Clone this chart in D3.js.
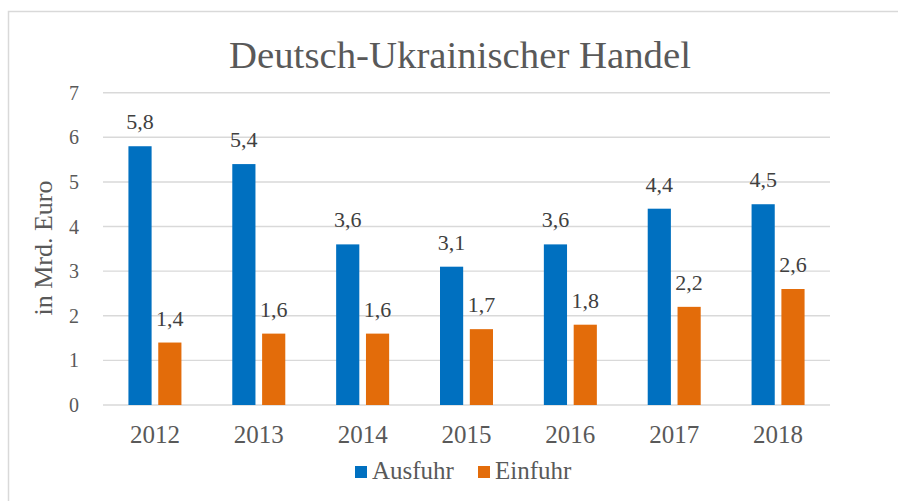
<!DOCTYPE html>
<html>
<head>
<meta charset="utf-8">
<script src="https://cdnjs.cloudflare.com/ajax/libs/d3/7.8.5/d3.min.js"></script>
<style>
  html, body { margin: 0; padding: 0; background: #fff; }
  svg { display: block; }
</style>
</head>
<body>
<div id="chart"></div>
<script>
// 数据
const years = ['2012', '2013', '2014', '2015', '2016', '2017', '2018'];
const series = ['Ausfuhr', 'Einfuhr'];
const ausfuhr = [5.8, 5.4, 3.6, 3.1, 3.6, 4.4, 4.5];
const einfuhr = [1.4, 1.6, 1.6, 1.7, 1.8, 2.2, 2.6];
const yTicks = [0, 1, 2, 3, 4, 5, 6, 7];
const colors = ['#0070C0', '#E36C0A'];

const width = 898, height = 501;
const font = '"Liberation Serif", "Times New Roman", serif';

const svg = d3.select('#chart')
  .append('svg')
  .attr('width', width)
  .attr('height', height);

// 外框
svg.append('rect')
  .attr('x', 8.5).attr('y', 11.5)
  .attr('width', 1000).attr('height', 600)
  .attr('fill', 'none')
  .attr('stroke', '#d9d9d9')
  .attr('stroke-width', 1.5);

// 标题
svg.append('text')
  .attr('x', 460).attr('y', 67.5)
  .attr('text-anchor', 'middle')
  .attr('textLength', 462)
  .attr('lengthAdjust', 'spacingAndGlyphs')
  .style('font-family', font)
  .style('font-size', '37px')
  .style('fill', '#595959')
  .text('Deutsch-Ukrainischer Handel');

// 比例尺
const x = d3.scaleBand().domain(years).range([103, 830]);
const pairW = 53;
const x1 = d3.scaleBand().domain(series)
  .range([(x.bandwidth() - pairW) / 2, (x.bandwidth() + pairW) / 2])
  .paddingInner(0.223);
const y = d3.scaleLinear().domain([0, 7]).range([405, 92.7]);

// 网格
svg.append('g')
  .selectAll('line')
  .data(yTicks)
  .enter().append('line')
  .attr('x1', 103).attr('x2', 830)
  .attr('y1', d => y(d)).attr('y2', d => y(d))
  .attr('stroke', '#d9d9d9')
  .attr('stroke-width', 1.4);

// y 轴刻度
svg.append('g')
  .selectAll('text')
  .data(yTicks)
  .enter().append('text')
  .attr('x', 79).attr('y', d => y(d) + 7)
  .attr('text-anchor', 'end')
  .style('font-family', font)
  .style('font-size', '20px')
  .style('fill', '#595959')
  .text(d => d);

// y 轴标题
svg.append('text')
  .attr('transform', 'translate(52,248) rotate(-90)')
  .attr('text-anchor', 'middle')
  .style('font-family', font)
  .style('font-size', '26px')
  .style('fill', '#595959')
  .text('in Mrd. Euro');

// x 轴刻度
svg.append('g')
  .selectAll('text')
  .data(years)
  .enter().append('text')
  .attr('x', d => x(d) + x.bandwidth() / 2)
  .attr('y', 443)
  .attr('text-anchor', 'middle')
  .style('font-family', font)
  .style('font-size', '25px')
  .style('fill', '#595959')
  .text(d => d);

// 柱子
const rows = years.map((yr, i) => ({ year: yr, values: [ausfuhr[i], einfuhr[i]] }));
const groups = svg.append('g')
  .selectAll('g')
  .data(rows)
  .enter().append('g')
  .attr('transform', d => `translate(${x(d.year)},0)`);

groups.selectAll('rect')
  .data(d => d.values.map((v, k) => ({ key: series[k], value: v, k })))
  .enter().append('rect')
  .attr('x', d => x1(d.key))
  .attr('width', x1.bandwidth())
  .attr('y', d => y(d.value))
  .attr('height', d => y(0) - y(d.value))
  .attr('fill', d => colors[d.k]);

// 数据标签
groups.selectAll('text')
  .data(d => d.values.map((v, k) => ({ key: series[k], value: v })))
  .enter().append('text')
  .attr('x', d => x1(d.key) + x1.bandwidth() / 2)
  .attr('y', d => y(d.value) - 17)
  .attr('text-anchor', 'middle')
  .style('font-family', font)
  .style('font-size', '22px')
  .style('fill', '#404040')
  .text(d => String(d.value.toFixed(1)).replace('.', ','));

// 图例
const legendX = [355, 478];
const legend = svg.append('g')
  .selectAll('g')
  .data(series)
  .enter().append('g')
  .attr('transform', (d, i) => `translate(${legendX[i]},0)`);
legend.append('rect')
  .attr('x', 0).attr('y', 466)
  .attr('width', 12).attr('height', 12)
  .attr('fill', (d, i) => colors[i]);
legend.append('text')
  .attr('x', 17).attr('y', 478.5)
  .style('font-family', font)
  .style('font-size', '25px')
  .style('fill', '#595959')
  .text(d => d);
</script>
</body>
</html>
